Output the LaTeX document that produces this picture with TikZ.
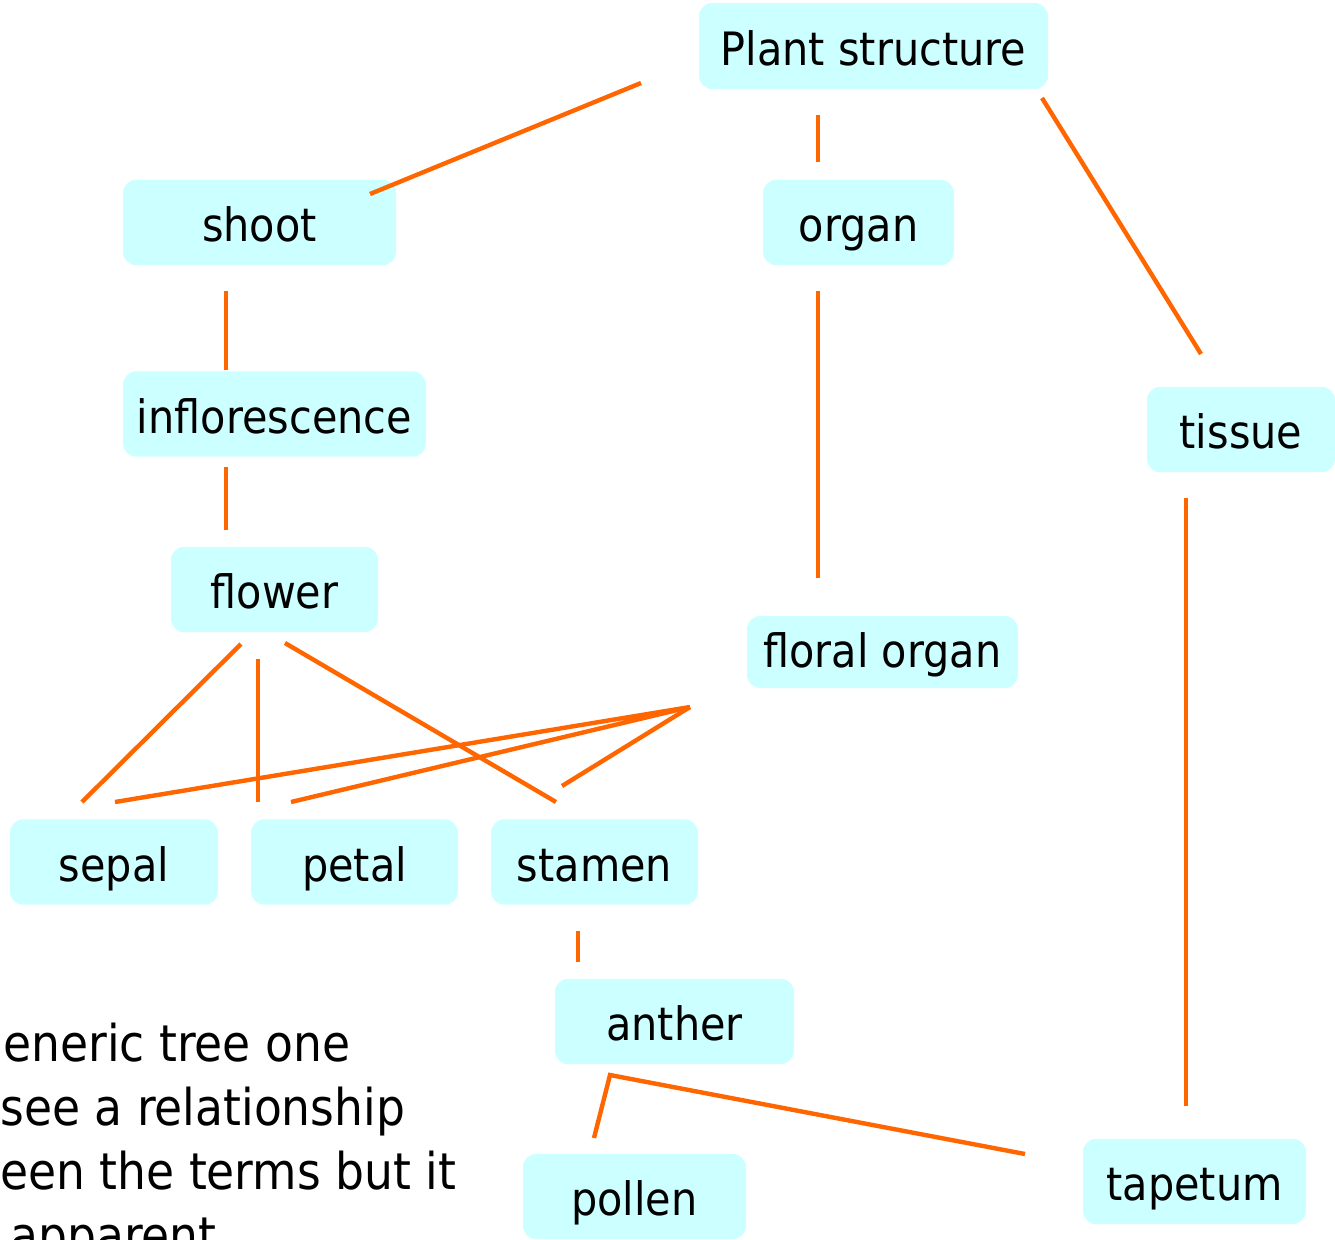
\documentclass[tikz,border=0pt]{standalone}
\usepackage{fontspec}
\setmainfont{DejaVu Sans}[FakeStretch=0.9]
\definecolor{boxfill}{HTML}{CCFFFF}
\definecolor{linkor}{HTML}{FF6600}
\tikzset{
  termbox/.style={fill=boxfill, draw=none, rounded corners=10pt, inner sep=0pt,
    minimum height=64pt, text height=30pt, text depth=1.5pt,
    font=\fontsize{34.5pt}{40pt}\selectfont},
  link/.style={draw=linkor, line width=3.3pt},
  remark/.style={anchor=base west, inner sep=0pt, font=\fontsize{38pt}{46pt}\selectfont}
}
\begin{document}
\begin{tikzpicture}[x=0.75pt,y=-0.75pt]
\useasboundingbox (0,0) rectangle (1335,1239);
\clip (0,0) rectangle (1335,1239);
% boxes
\node[termbox, minimum width=261.75pt, minimum height=64.5pt] (plant) at (873.5,46) {Plant structure};
\node[termbox, minimum width=204.75pt] (shoot) at (259.5,222.5) {shoot};
\node[termbox, minimum width=143.25pt] (organ) at (858.5,222.5) {organ};
\node[termbox, minimum width=227.25pt] (infl) at (274.5,414) {inflorescence};
\node[termbox, minimum width=141pt] (tissue) at (1241,429.5) {tissue};
\node[termbox, minimum width=155.25pt] (flower) at (274.5,589.5) {flower};
\node[termbox, minimum width=203.25pt, minimum height=54pt, text height=25pt] (floral) at (882.5,652) {floral organ};
\node[termbox, minimum width=156pt] (sepal) at (114,862) {sepal};
\node[termbox, minimum width=155.25pt] (petal) at (354.5,862) {petal};
\node[termbox, minimum width=155.25pt] (stamen) at (594.5,862) {stamen};
\node[termbox, minimum width=179.25pt] (anther) at (674.5,1021.5) {anther};
\node[termbox, minimum width=167.25pt] (pollen) at (634.5,1196.5) {pollen};
\node[termbox, minimum width=167.25pt] (tapetum) at (1194.5,1181.5) {tapetum};
% connector end points
\coordinate (pA) at (641,83);   \coordinate (shA) at (370,194);
\coordinate (pB) at (818,115);  \coordinate (orA) at (818,162);
\coordinate (pC) at (1042,98);  \coordinate (tiA) at (1201,354);
\coordinate (shB) at (226,291); \coordinate (inA) at (226,370);
\coordinate (inB) at (226,467); \coordinate (flA) at (226,530);
\coordinate (orB) at (818,291); \coordinate (foA) at (818,578);
\coordinate (tiB) at (1186,498); \coordinate (taA) at (1186,1106);
\coordinate (flB) at (241,644); \coordinate (seA) at (82,802);
\coordinate (flC) at (258,659); \coordinate (peA) at (258,802);
\coordinate (flD) at (285,643); \coordinate (stA) at (556,802);
\coordinate (foB) at (690,707);
\coordinate (seB) at (115,802); \coordinate (peB) at (291,802); \coordinate (stB) at (562,786);
\coordinate (stC) at (578,931); \coordinate (anA) at (578,962);
\coordinate (anB) at (610,1075);
\coordinate (poA) at (594,1138); \coordinate (taB) at (1025,1154);
% connectors
\draw[link] (pA) -- (shA);
\draw[link] (pB) -- (orA);
\draw[link] (pC) -- (tiA);
\draw[link] (shB) -- (inA);
\draw[link] (inB) -- (flA);
\draw[link] (orB) -- (foA);
\draw[link] (tiB) -- (taA);
\draw[link] (flB) -- (seA);
\draw[link] (flC) -- (peA);
\draw[link] (flD) -- (stA);
\draw[link] (seB) -- (foB) -- (peB);
\draw[link] (foB) -- (stB);
\draw[link] (stC) -- (anA);
\draw[link] (poA) -- (anB) -- (taB);
% remark text (cut at the picture's edges, as in the reference)
\node[remark] (r1) at (3,1061) {eneric tree one};
\node[remark] (r2) at (0,1125) {see a relationship};
\node[remark] (r3) at (0,1189) {een the terms but it};
\node[remark] (r4) at (10,1253) {apparent};
\end{tikzpicture}
\end{document}
